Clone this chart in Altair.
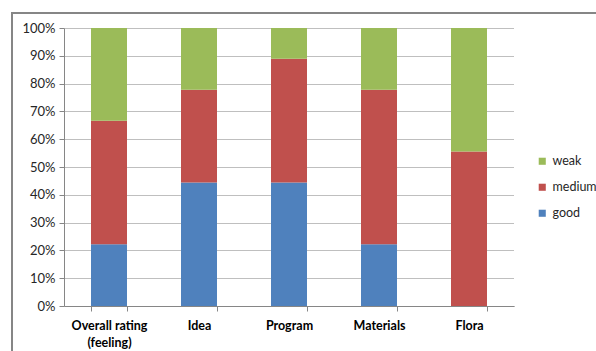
import altair as alt
import pandas as pd

categories = ["Overall rating (feeling)", "Idea", "Program", "Materials", "Flora"]
good = [22.2, 44.4, 44.4, 22.2, 0.0]
medium = [44.4, 33.4, 44.5, 55.6, 55.6]
weak = [33.4, 22.2, 11.1, 22.2, 44.4]
series = ["weak", "medium", "good"]
colors = ["#9BBB59", "#C0504D", "#4F81BD"]

rows = []
for i, c in enumerate(categories):
    for name, vals, o in (("good", good, 0), ("medium", medium, 1), ("weak", weak, 2)):
        rows.append({"category": c, "series": name, "value": vals[i], "ord": o})
df = pd.DataFrame(rows)

FONT = "Lato"

bars = alt.Chart(df).mark_bar(size=36).encode(
    x=alt.X("category:N", sort=categories, title=None,
            scale=alt.Scale(paddingInner=0.6, paddingOuter=0.3),
            axis=alt.Axis(labelAngle=0, tickBand="extent", tickSize=5,
                          grid=False, gridOpacity=0, gridWidth=0, zindex=0,
                          tickColor="#868686", domainColor="#868686",
                          labelFontWeight="bold", labelFontSize=12.5, labelColor="#000000",
                          labelPadding=8, labelFont=FONT, labelLineHeight=17,
                          labelExpr="datum.label === 'Overall rating (feeling)' ? ['Overall rating', '(feeling)'] : datum.label")),
    y=alt.Y("value:Q", stack="normalize", title=None,
            scale=alt.Scale(domain=[0, 1]),
            axis=alt.Axis(format=".0%", values=[i / 10 for i in range(11)], zindex=0,
                          tickSize=5, tickColor="#868686", domainColor="#868686",
                          gridColor="#BFBFBF", labelFontSize=13, labelColor="#262626",
                          labelPadding=4, labelFont=FONT)),
    color=alt.Color("series:N", scale=alt.Scale(domain=series, range=colors), title=None,
                    legend=alt.Legend(orient="none", legendX=472, legendY=127,
                                      symbolType="square", symbolSize=50, symbolStrokeWidth=0,
                                      labelFontSize=12.5, labelFont=FONT, labelColor="#262626",
                                      rowPadding=13, labelOffset=4)),
    order=alt.Order("ord:Q", sort="ascending"),
)

frame = alt.Chart(df).mark_rect(fill="transparent", stroke="#868686", strokeWidth=2).encode(
    x=alt.value(-52), x2=alt.value(700), y=alt.value(-15), y2=alt.value(400))

edge_cover = alt.Chart(df).mark_rule(color="#ffffff", strokeWidth=2).encode(
    x=alt.value(451), y=alt.value(-1), y2=alt.value(277.5))

chart = alt.layer(frame, bars, edge_cover).properties(
    width=450, height=278,
    autosize=alt.AutoSizeParams(type="none"),
    padding={"left": 64, "top": 28, "right": 82, "bottom": 45},
).configure(font=FONT).configure_view(stroke="#ffffff", strokeWidth=0, strokeOpacity=0)

chart.save("out.html", embed_options={"renderer": "svg", "actions": False})
